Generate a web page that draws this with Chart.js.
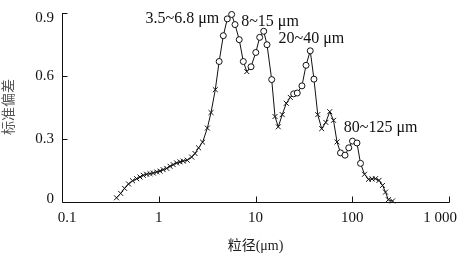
<!DOCTYPE html>
<html>
<head>
<meta charset="utf-8">
<script src="https://cdn.jsdelivr.net/npm/chart.js@4.4.1/dist/chart.umd.min.js"></script>
<style>
  html, body { margin: 0; padding: 0; background: #fff; }
  #wrap { width: 464px; height: 262px; }
</style>
</head>
<body>
<div id="wrap"><canvas id="chart" width="464" height="262"></canvas></div>
<script>
// particle size (μm) and standard deviation
const sizes = [0.366, 0.404, 0.443, 0.487, 0.536, 0.592, 0.640, 0.692, 0.750, 0.812,
  0.878, 0.952, 1.03, 1.11, 1.21, 1.31, 1.41, 1.53, 1.66, 1.79,
  1.97, 2.19, 2.37, 2.58, 2.84, 3.18, 3.47, 3.84, 4.21, 4.65,
  5.11, 5.67, 6.14, 6.79, 7.48, 8.13, 8.99, 10.07, 11.05, 12.16,
  13.15, 14.70, 15.9, 17.2, 18.9, 20.8, 22.9, 24.8, 27.0, 30.2,
  33.3, 36.8, 40.2, 44.0, 48.3, 53.3, 58.5, 64.0, 69.6, 75.6,
  84.2, 92.1, 100.6, 111.9, 121.7, 133.9, 147.2, 160, 174, 189,
  205.6, 220.6, 236, 261];
const stdDev = [0.020, 0.041, 0.065, 0.086, 0.101, 0.111, 0.119, 0.127, 0.132, 0.135,
  0.138, 0.143, 0.147, 0.154, 0.160, 0.170, 0.178, 0.186, 0.191, 0.195,
  0.199, 0.214, 0.231, 0.258, 0.285, 0.352, 0.426, 0.535, 0.669, 0.792,
  0.872, 0.893, 0.845, 0.773, 0.669, 0.621, 0.644, 0.712, 0.784, 0.813,
  0.749, 0.583, 0.407, 0.358, 0.416, 0.470, 0.498, 0.515, 0.519, 0.553,
  0.651, 0.720, 0.585, 0.416, 0.349, 0.379, 0.430, 0.389, 0.286, 0.234,
  0.223, 0.258, 0.290, 0.281, 0.184, 0.132, 0.108, 0.110, 0.111, 0.103,
  0.079, 0.047, 0.011, 0.005];

// size bands whose points are drawn as circles
const peakBands = [[4.0, 7.8], [8.5, 15.0], [24.0, 42.0], [72.0, 125.0]];

// band labels and where they sit (data units, left edge / middle)
const bandText = ['3.5~6.8 μm', '8~15 μm', '20~40 μm', '80~125 μm'];
const bandX = [0.729, 7.11, 17.3, 81.9];
const bandY = [0.874, 0.857, 0.778, 0.354];

const xTicks = [0.1, 1, 10, 100, 1000];
const xTickLabels = ['0.1', '1', '10', '100', '1 000'];
const yTicks = [0, 0.3, 0.6, 0.9];
const yTickLabels = ['0', '0.3', '0.6', '0.9'];

const serif = '"Liberation Serif", "Times New Roman", serif';
const cjk = '"Liberation Serif", "Noto Sans CJK SC", sans-serif';

const inBand = v => peakBands.some(b => v >= b[0] && v <= b[1]);
const styles = sizes.map(v => inBand(v) ? 'circle' : 'crossRot');

// axis lines, inward ticks, tick labels, axis titles and band labels
const decorPlugin = {
  id: 'decor',
  beforeDatasetsDraw(chart) {
    const ctx = chart.ctx;
    const xs = chart.scales.x, ys = chart.scales.y;
    const area = chart.chartArea;
    const l = Math.round(area.left) + 0.5, b = Math.round(area.bottom) + 0.5;
    ctx.save();
    ctx.strokeStyle = '#111';
    ctx.lineWidth = 1;
    ctx.beginPath();
    ctx.moveTo(l, Math.round(area.top));
    ctx.lineTo(l, b);
    ctx.lineTo(Math.round(area.right) + 0.5, b);
    yTicks.forEach(v => {
      const py = Math.round(ys.getPixelForValue(v)) + 0.5;
      ctx.moveTo(l, py);
      ctx.lineTo(l + 5, py);
    });
    xTicks.slice(1).forEach(v => {
      const px = Math.round(xs.getPixelForValue(v)) + 0.5;
      ctx.moveTo(px, b);
      ctx.lineTo(px, b - 6);
    });
    ctx.stroke();
    ctx.restore();
  },
  afterDraw(chart) {
    const ctx = chart.ctx;
    const xs = chart.scales.x, ys = chart.scales.y;
    const area = chart.chartArea;
    ctx.save();
    ctx.fillStyle = '#111';
    ctx.font = '15px ' + serif;
    ctx.textAlign = 'center';
    ctx.textBaseline = 'middle';
    xTicks.forEach((v, i) => {
      let px = xs.getPixelForValue(v);
      px = Math.min(Math.max(px, area.left + 5), area.right - 9);
      ctx.fillText(xTickLabels[i], px, area.bottom + 16);
    });
    ctx.textAlign = 'right';
    yTicks.forEach((v, i) => {
      let py = ys.getPixelForValue(v);
      py = Math.min(Math.max(py, area.top + 5), area.bottom - 3);
      ctx.fillText(yTickLabels[i], area.left - 8, py);
    });

    // axis titles
    ctx.font = '14px ' + cjk;
    ctx.textAlign = 'center';
    ctx.fillStyle = '#222';
    ctx.fillText('粒径(μm)', (area.left + area.right) / 2, 246);
    ctx.save();
    ctx.translate(9, 107);
    ctx.rotate(-Math.PI / 2);
    ctx.fillStyle = '#555';
    ctx.fillText('标准偏差', 0, 0);
    ctx.restore();

    // band labels
    ctx.font = '16px ' + serif;
    ctx.textAlign = 'left';
    ctx.fillStyle = '#111';
    bandText.forEach((t, i) => {
      ctx.fillText(t, xs.getPixelForValue(bandX[i]), ys.getPixelForValue(bandY[i]));
    });
    ctx.restore();
  }
};

new Chart(document.getElementById('chart'), {
  type: 'line',
  data: {
    datasets: [{
      data: sizes.map((s, i) => ({ x: s, y: stdDev[i] })),
      borderColor: '#111',
      borderWidth: 1,
      tension: 0,
      clip: false,
      pointStyle: styles,
      pointRadius: styles.map(s => s === 'circle' ? 3 : 3.5),
      pointBackgroundColor: '#fff',
      pointBorderColor: '#111',
      pointBorderWidth: 1
    }]
  },
  options: {
    responsive: false,
    animation: false,
    devicePixelRatio: 1,
    layout: { padding: { left: 62, right: 15, top: 13, bottom: 60 } },
    scales: {
      x: {
        type: 'logarithmic',
        min: 0.1,
        max: 1000,
        grid: { display: false },
        ticks: { display: false },
        border: { display: false },
        afterFit: s => { s.height = 0; }
      },
      y: {
        min: 0,
        max: 0.9,
        grid: { display: false },
        ticks: { display: false },
        border: { display: false },
        afterFit: s => { s.width = 0; }
      }
    },
    plugins: {
      legend: { display: false },
      tooltip: { enabled: false }
    }
  },
  plugins: [decorPlugin]
});
</script>
</body>
</html>
